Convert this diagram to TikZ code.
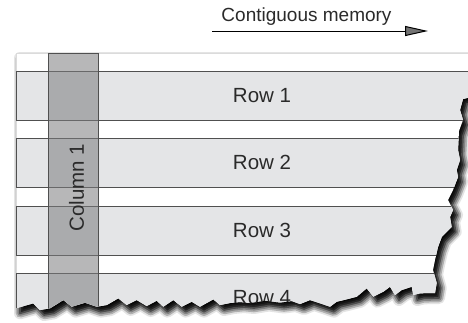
\documentclass[tikz,border=0pt]{standalone}
\usepackage{fontspec}
\setmainfont{Liberation Sans}
\usetikzlibrary{arrows.meta,shadows.blur}
\definecolor{rowfill}{HTML}{E4E5E7}
\definecolor{edge}{HTML}{505050}
\definecolor{colfill}{HTML}{7C7C7E}
\definecolor{txt}{HTML}{2A2A2A}
\def\paperpath{(16,53) -- (475,53) -- (475,96) -- (463,99) -- (460,110) -- (463,120) -- (459,131) -- (458,150) -- (460,160) -- (456.7,170) -- (458,177) -- (453,190) -- (448,200) -- (453,210) -- (450,217) -- (451.7,227) -- (441.7,237) -- (438,247) -- (435,260) -- (433,270) -- (436.7,283) -- (435,293)
 -- (420,293.3) -- (413.3,295) -- (411.7,286.7) -- (401.7,290) -- (395,295) -- (390,286.7) -- (383.3,291.7) -- (373.3,296.7) -- (366.7,288.3) -- (356.7,296.7) -- (346.7,299.3) -- (336.7,301.7) -- (330,306.7) -- (320,303.3) -- (310,300) -- (300,304) -- (291.7,301) -- (280,302.5) -- (265,300.5) -- (250,303) -- (240,302) -- (230,303) -- (220,305) -- (213.3,299.3) -- (200,306.7) -- (191.7,301.7) -- (181.7,306.7) -- (173.3,300) -- (163.3,306.7) -- (156.7,300.7) -- (146.7,306) -- (136.7,300) -- (126.7,305) -- (118.3,298.3) -- (106.7,305) -- (96.7,306.7) -- (85,302.7) -- (71.7,306.7) -- (63.3,300) -- (50,308.3) -- (40,310) -- (33.3,303.3) -- (16,308.3) -- cycle}
\begin{document}
\begin{tikzpicture}[x=1bp,y=-1bp,
  rowbox/.style={draw=edge, fill=rowfill, line width=0.8bp, minimum width=492bp,
    minimum height=49bp, inner sep=0pt, text=txt, font=\fontsize{20.5bp}{24bp}\selectfont},
  colbox/.style={draw=edge, line width=0.9bp, fill=colfill, fill opacity=0.55,
    minimum width=50bp, minimum height=277bp, inner sep=0pt},
  lbl/.style={text=txt, inner sep=0pt, font=\fontsize{20.5bp}{24bp}\selectfont},
  toplbl/.style={text=txt, inner sep=0pt, font=\fontsize{19bp}{23bp}\selectfont},
  arr/.style={line width=1bp, -{Triangle[length=23bp,width=10bp]}}]
\useasboundingbox (0,0) rectangle (468,322);
% paper with torn edge and shadow
\fill[white,
  blur shadow={shadow xshift=0bp, shadow yshift=0bp, shadow blur radius=4bp, shadow opacity=18},
  blur shadow={shadow xshift=4bp, shadow yshift=-5bp, shadow blur radius=6bp, shadow opacity=90}]
  \paperpath;
\draw[black!14, line width=0.8bp] (16,308) -- (16,53) -- (475,53);
\begin{scope}
  \clip \paperpath;
  \node[rowbox] (row1) at (262,95.5) {Row 1};
  \node[rowbox] (row2) at (262,162.5) {Row 2};
  \node[rowbox] (row3) at (262,230.5) {Row 3};
  \node[rowbox] (row4) at (262,297.5) {Row 4};
  \node[colbox] (col1) at (73,191.5) {};
  \node[lbl, rotate=90] (col1lbl) at (76.5,187.5) {Column 1};
\end{scope}
% contiguous memory arrow
\node[toplbl, anchor=base] (cm) at (306.5,21.5) {Contiguous memory};
\coordinate (a0) at (212,31);
\coordinate (a1) at (428,31);
\draw[arr] (a0) -- (a1);
\end{tikzpicture}
\end{document}
